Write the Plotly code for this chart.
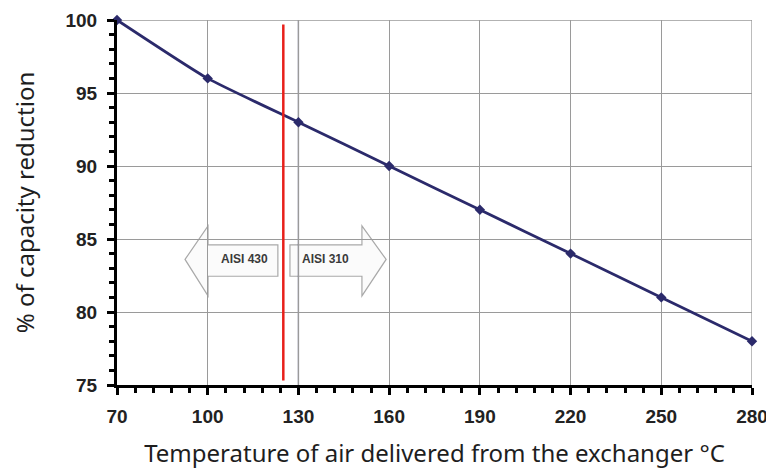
import plotly.graph_objects as go

# temperature of delivered air (°C) vs capacity (%)
temperature = [70, 100, 130, 160, 190, 220, 250, 280]
capacity = [100, 96, 93, 90, 87, 84, 81, 78]

x_ticks = [70, 100, 130, 160, 190, 220, 250, 280]
y_ticks = [75, 80, 85, 90, 95, 100]

limit_temp = 125  # AISI 430 / AISI 310 boundary

fig = go.Figure()

fig.add_trace(go.Scatter(
    x=temperature, y=capacity,
    mode='lines+markers',
    line=dict(color='#2b2a6b', width=2.8, shape='spline', smoothing=0.5),
    marker=dict(symbol='diamond', size=8, color='#2b2a6b'),
    cliponaxis=False,
    hoverinfo='x+y'
))

# arrow outlines (left arrow = AISI 430, right arrow = AISI 310)
arrow_style = dict(type='path', xref='x', yref='y',
                   line=dict(color='#a9a9a9', width=1.2),
                   fillcolor='#fbfbfb', layer='below')
fig.add_shape(path='M 92.5 83.6 L 100.1 85.9 L 100.1 84.6 L 123.2 84.6 '
                   'L 123.2 82.45 L 100.1 82.45 L 100.1 81.1 Z', **arrow_style)
fig.add_shape(path='M 159 83.6 L 151 85.9 L 151 84.6 L 127.2 84.6 '
                   'L 127.2 82.45 L 151 82.45 L 151 81.1 Z', **arrow_style)
fig.add_annotation(x=112, y=83.6, text='<b>AISI 430</b>', showarrow=False,
                   font=dict(family='Liberation Sans Narrow, Liberation Sans',
                             size=12, color='#3a3a3a'))
fig.add_annotation(x=139, y=83.6, text='<b>AISI 310</b>', showarrow=False,
                   font=dict(family='Liberation Sans Narrow, Liberation Sans',
                             size=12, color='#3a3a3a'))

# darker grid line at 130 and red boundary line
fig.add_shape(type='line', x0=130, x1=130, y0=75, y1=100, xref='x', yref='y',
              line=dict(color='#4a4a66', width=1.3), layer='below')
fig.add_shape(type='line', x0=limit_temp, x1=limit_temp, y0=75.3, y1=99.7,
              xref='x', yref='y', line=dict(color='#e8201a', width=2.5))

# top and right frame
fig.add_shape(type='line', x0=70, x1=280, y0=100, y1=100, xref='x', yref='y',
              line=dict(color='#999', width=1.3), layer='below')
fig.add_shape(type='line', x0=280, x1=280, y0=75, y1=100, xref='x', yref='y',
              line=dict(color='#999', width=1.3), layer='below')

tick_font = dict(family='Liberation Sans', size=19, color='#222')

# the page body adds an 8px offset, so the figure is a bit smaller
fig.update_layout(
    width=766, height=464,
    margin=dict(l=109, r=22, t=12, b=87),
    paper_bgcolor='white', plot_bgcolor='white',
    showlegend=False,
    font=dict(family='Noto Sans', size=20, color='#1e1e1e'),
    xaxis=dict(
        range=[70, 280], tickvals=x_ticks,
        ticktext=['<b>%d</b>' % v for v in x_ticks],
        tickfont=tick_font, automargin=False, ticklabelstandoff=5,
        ticklabeloverflow='allow',
        showline=True, linecolor='black', linewidth=3,
        ticks='outside', ticklen=7, tickwidth=2.5, tickcolor='black',
        minor=dict(dtick=6, tick0=70, ticks='outside', ticklen=5,
                   tickwidth=2.5, tickcolor='black', showgrid=False),
        showgrid=True, gridcolor='#9a9a9a', gridwidth=1.2,
        zeroline=False,
        title=dict(text='Temperature of air delivered from the exchanger °C',
                   standoff=20),
    ),
    yaxis=dict(
        range=[75, 100], tickvals=y_ticks,
        ticktext=['<b>%d</b>' % v for v in y_ticks],
        tickfont=tick_font, automargin=False, ticklabelstandoff=6,
        ticklabeloverflow='allow',
        showline=True, linecolor='black', linewidth=3,
        ticks='outside', ticklen=7, tickwidth=2.5, tickcolor='black',
        minor=dict(dtick=1, tick0=75, ticks='outside', ticklen=5,
                   tickwidth=2.5, tickcolor='black', showgrid=False),
        showgrid=True, gridcolor='#9a9a9a', gridwidth=1.2,
        zeroline=False,
        title=dict(text='% of capacity reduction', standoff=39),
    ),
)

fig.write_html("out.html")
